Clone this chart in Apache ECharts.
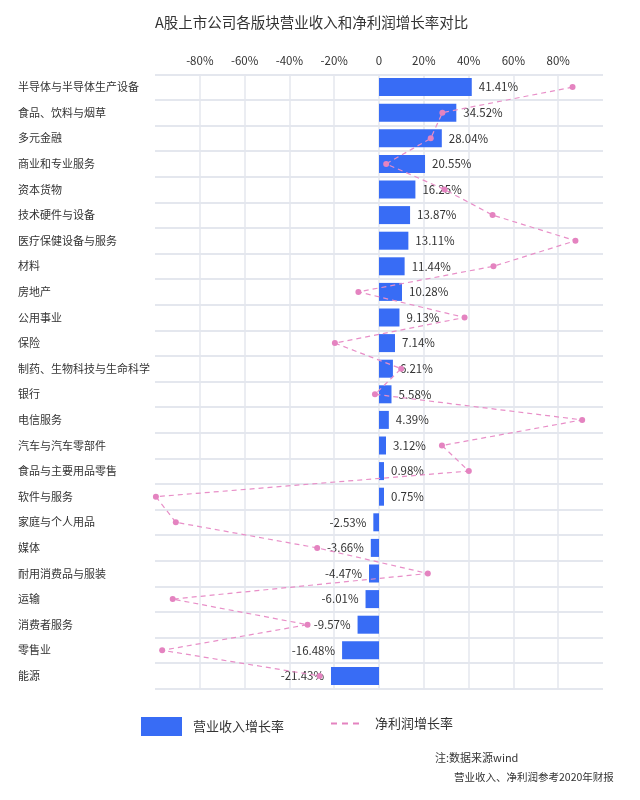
<!DOCTYPE html>
<html>
<head>
<meta charset="utf-8">
<script src="https://cdn.jsdelivr.net/npm/echarts@6/dist/echarts.min.js"></script>
<style>
html,body{margin:0;padding:0;background:#fff;}
#c{width:640px;height:800px;}
</style>
</head>
<body>
<div id="c"></div>
<script>
var categories = ['半导体与半导体生产设备','食品、饮料与烟草','多元金融','商业和专业服务','资本货物','技术硬件与设备','医疗保健设备与服务','材料','房地产','公用事业','保险','制药、生物科技与生命科学','银行','电信服务','汽车与汽车零部件','食品与主要用品零售','软件与服务','家庭与个人用品','媒体','耐用消费品与服装','运输','消费者服务','零售业','能源'];
var revenueGrowth = [41.41,34.52,28.04,20.55,16.25,13.87,13.11,11.44,10.28,9.13,7.14,6.21,5.58,4.39,3.12,0.98,0.75,-2.53,-3.66,-4.47,-6.01,-9.57,-16.48,-21.43];
var profitGrowth = [86.4,28.3,23.1,3.2,29.3,50.7,87.7,51.1,-9.2,38.2,-19.7,9.9,-1.8,90.7,28.1,40.1,-99.6,-90.7,-27.6,21.8,-92.1,-31.9,-96.8,-26.5];
var xTicks = {min:-100, max:100, interval:20};
var seriesNames = ['营业收入增长率','净利润增长率'];
var titleText = 'A股上市公司各版块营业收入和净利润增长率对比';
var notes = ['注:数据来源wind','营业收入、净利润参考2020年财报'];

var chart = echarts.init(document.getElementById('c'), null, {renderer:'canvas'});
var FONT = '"Noto Sans CJK SC","Noto Sans",sans-serif';
var option = {
  animation:false,
  backgroundColor:'#fff',
  textStyle:{fontFamily:FONT},
  title:{text:titleText,left:155,top:15,padding:0,textStyle:{fontSize:14.5,fontWeight:'normal',color:'#333',fontFamily:FONT}},
  grid:{left:155,right:37,top:74.3,bottom:111.3,containLabel:false},
  legend:[
    {data:[{name:seriesNames[0],icon:'rect'}],left:141,top:717,padding:0,itemWidth:41,itemHeight:19,
     textStyle:{fontSize:13,color:'#333',padding:[0,0,0,6],fontFamily:FONT}},
    {data:[{name:seriesNames[1],icon:'path://M0,0h6v2h-6z M11,0h6v2h-6z M22,0h6v2h-6z'}],left:331,top:717,padding:0,itemWidth:28,itemHeight:19,
     itemStyle:{color:'#e483c0',borderWidth:0},
     textStyle:{fontSize:13,color:'#333',padding:[0,0,0,11],fontFamily:FONT}}
  ],
  xAxis:{type:'value',position:'top',min:xTicks.min,max:xTicks.max,interval:xTicks.interval,
    axisLine:{show:false},axisTick:{show:false},
    axisLabel:{showMinLabel:false,showMaxLabel:false,fontSize:11.5,color:'#333',margin:8,
      formatter:function(v){return v===0?'0':v+'%';}},
    splitLine:{show:true,showMinLine:false,showMaxLine:false,lineStyle:{color:'#e4e7ee',width:1.5}}
  },
  yAxis:{type:'category',data:categories,inverse:true,
    axisLine:{show:false},axisTick:{show:false},
    axisLabel:{align:'left',margin:137,fontSize:11,color:'#333'},
    splitLine:{show:true,lineStyle:{color:'#e4e7ee',width:2}}
  },
  series:[
    {name:seriesNames[0],type:'bar',barWidth:18,barMinHeight:5,
     itemStyle:{color:'#386cf5'},
     data:revenueGrowth.map(function(v){return {value:v,label:{position:v>=0?'right':'left'}};}),
     label:{show:true,distance:7,fontSize:11.5,color:'#333',formatter:function(p){return p.value.toFixed(2)+'%';}},
     z:2},
    {name:seriesNames[1],type:'line',data:profitGrowth,symbol:'circle',symbolSize:6,
     itemStyle:{color:'#e483c0'},
     lineStyle:{color:'#e88fc8',width:1.2,type:[5,4]},z:3}
  ],
  graphic:[
    {type:'text',left:435,top:752,style:{text:notes[0],font:'11px '+FONT,fill:'#333'}},
    {type:'text',left:454,top:772,style:{text:notes[1],font:'10.5px '+FONT,fill:'#333'}}
  ]
};
chart.setOption(option);
</script>
</body>
</html>
